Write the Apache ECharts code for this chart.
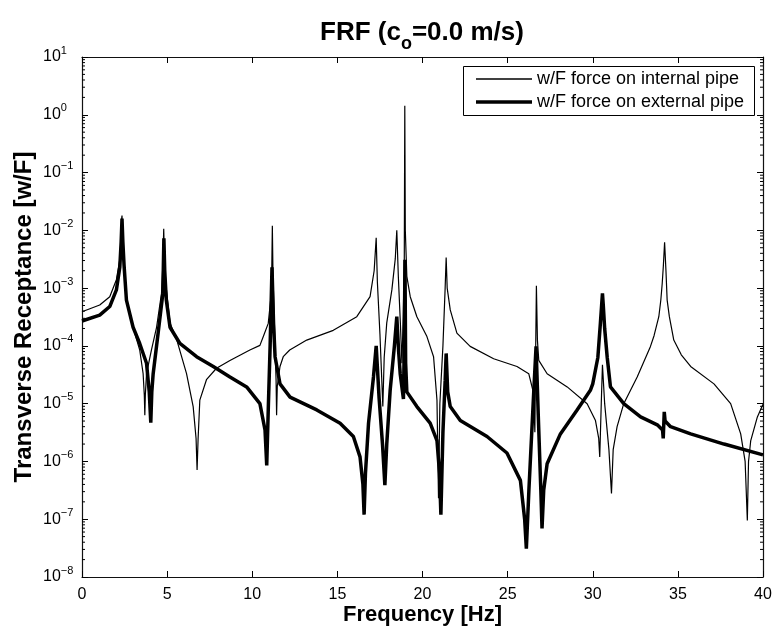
<!DOCTYPE html>
<html>
<head>
<meta charset="utf-8">
<script src="https://cdn.jsdelivr.net/npm/echarts@6/dist/echarts.min.js"></script>
<style>html,body{margin:0;padding:0;background:#fff}#c{width:773px;height:630px}</style>
</head>
<body>
<div id="c"></div>
<script>
// Frequencies (Hz) and receptance values
const freqInternal = [0,1.04,1.63,2.02,2.22,2.30,2.33,2.35,2.40,2.47,2.61,3.0,3.39,3.59,3.66,3.69,3.72,3.79,4.08,4.38,4.67,4.75,4.8,4.85,4.95,5.17,5.57,6.14,6.53,6.7,6.76,6.82,6.92,7.31,7.9,8.69,9.86,10.45,10.65,10.94,11.1,11.15,11.18,11.22,11.3,11.4,11.43,11.47,11.63,11.82,12.2,13.2,14.76,16.14,16.92,17.16,17.28,17.35,17.5,17.67,17.75,17.9,18.2,18.4,18.49,18.58,18.7,18.79,18.87,18.93,18.96,18.99,19.08,19.28,19.67,20.26,20.65,20.85,20.94,21.02,21.2,21.33,21.39,21.45,21.63,22.02,22.8,24.18,25.55,26.24,26.53,26.6,26.65,26.69,26.75,26.83,27.32,28.5,29.67,30.16,30.35,30.41,30.5,30.57,30.7,30.95,31.1,31.2,31.43,31.82,32.61,33.39,33.6,33.88,34.0,34.08,34.15,34.22,34.3,34.37,34.5,34.76,35.2,35.75,37.12,38.1,38.69,38.95,39.08,39.15,39.28,39.67,40];
const valInternal = [3.9e-4,5.1e-4,7.1e-4,1.4e-3,3.1e-3,7.9e-3,1.6e-2,1.8e-2,6.3e-3,2.5e-3,6.2e-4,2.1e-4,8.5e-5,3.3e-5,1.4e-5,6.3e-6,1.4e-5,3.3e-5,8.5e-5,2.1e-4,8.1e-4,2.5e-3,1.06e-2,2.5e-3,1.0e-3,2.5e-4,1.26e-4,3.3e-5,8.9e-6,2.5e-6,7.1e-7,2.5e-6,1.15e-5,2.6e-5,4.1e-5,5.6e-5,8.5e-5,1.02e-4,1.45e-4,2.45e-4,7.1e-4,2.5e-3,1.2e-2,1.6e-3,2.5e-4,2.5e-5,6.3e-6,2.0e-5,4.4e-5,6.5e-5,8.5e-5,1.26e-4,1.86e-4,3.2e-4,7.1e-4,2.0e-3,7.4e-3,1.26e-3,1.6e-4,8.9e-6,6.3e-5,2.5e-4,9.3e-4,3.2e-3,1.0e-2,1.6e-3,2.5e-4,5.0e-5,3.2e-4,3.2e-3,1.43,1.0e-2,1.6e-3,7.1e-4,3.2e-4,1.45e-4,6.5e-5,1.15e-5,2.3e-7,1.0e-5,1.0e-4,1.0e-3,3.4e-3,1.0e-3,4.2e-4,1.66e-4,9.8e-5,6.0e-5,4.4e-5,3.3e-5,1.5e-5,3.2e-6,1.0e-4,1.1e-3,1.26e-4,5.6e-5,3.3e-5,1.95e-5,1.0e-5,5.1e-6,2.5e-6,1.2e-6,1.0e-5,4.7e-5,1.0e-5,1.6e-6,2.8e-7,1.6e-6,4.0e-6,1.0e-5,2.9e-5,9.8e-5,1.5e-4,3.2e-4,6.3e-4,1.2e-3,2.5e-3,6.2e-3,2.0e-3,6.2e-4,3.2e-4,1.26e-4,7.0e-5,4.4e-5,2.2e-5,1.0e-5,3.0e-6,1.0e-6,9.5e-8,1.0e-6,2.3e-6,5.9e-6,9.8e-6];

const freqExternal = [0,1.04,1.63,2.02,2.22,2.30,2.35,2.40,2.47,2.61,3.0,3.39,3.79,3.95,4.04,4.1,4.18,4.47,4.75,4.78,4.81,4.86,4.95,5.17,5.75,6.73,7.71,8.69,9.67,10.45,10.75,10.85,10.95,11.05,11.16,11.25,11.34,11.63,12.22,13.79,15.16,15.94,16.33,16.5,16.57,16.65,16.83,17.12,17.28,17.45,17.65,17.79,17.9,18.1,18.35,18.49,18.6,18.69,18.88,18.93,18.97,19.01,19.08,19.67,20.45,20.85,21.0,21.08,21.2,21.33,21.39,21.48,21.63,22.22,23.79,24.96,25.75,26.0,26.1,26.25,26.5,26.67,26.8,26.95,27.02,27.12,27.32,28.1,29.08,29.86,30.0,30.3,30.45,30.52,30.57,30.62,30.7,30.85,31.04,31.82,32.81,33.79,34.1,34.14,34.2,34.25,34.57,35.75,37.71,40];
const valExternal = [2.7e-4,3.4e-4,4.8e-4,9.3e-4,2.3e-3,6.3e-3,1.6e-2,6.3e-3,2.5e-3,6.2e-4,2.1e-4,1.1e-4,5.0e-5,1.6e-5,4.7e-6,1.6e-5,3.3e-5,1.66e-4,8.1e-4,2.5e-3,7.3e-3,2.0e-3,6.3e-4,2.1e-4,1.1e-4,6.5e-5,4.4e-5,2.9e-5,1.95e-5,1.0e-5,3.5e-6,8.5e-7,1.0e-5,1.0e-4,2.3e-3,2.5e-4,6.5e-5,2.2e-5,1.3e-5,7.8e-6,4.6e-6,2.7e-6,1.2e-6,4.0e-7,1.2e-7,6.3e-7,4.6e-6,2.9e-5,1.0e-4,1.26e-5,2.0e-6,3.9e-7,2.0e-6,1.7e-5,1.0e-4,3.2e-4,7.9e-5,3.3e-5,1.2e-5,1.0e-4,3.1e-3,5.0e-5,1.6e-5,8.9e-6,4.6e-6,2.3e-6,6.3e-7,1.2e-7,3.2e-6,2.5e-5,7.4e-5,1.6e-5,8.9e-6,5.1e-6,2.7e-6,1.4e-6,4.7e-7,1.0e-7,3.1e-8,3.2e-7,1.0e-5,9.8e-5,6.3e-6,3.2e-7,6.9e-8,3.2e-7,9.1e-7,3.0e-6,7.8e-6,1.7e-5,2.2e-5,6.3e-5,2.5e-4,5.0e-4,8.1e-4,5.0e-4,2.0e-4,6.3e-5,1.95e-5,1.0e-5,5.9e-6,4.3e-6,3.5e-6,2.5e-6,7.2e-6,5.0e-6,4.0e-6,3.0e-6,2.0e-6,1.3e-6];

const seriesNames = ['w/F force on internal pipe', 'w/F force on external pipe'];
const xTicks = [0, 5, 10, 15, 20, 25, 30, 35, 40];
const yDecades = [-8, -7, -6, -5, -4, -3, -2, -1, 0, 1];

const minorTicks = [];
for (let d = -8; d < 1; d++) for (let k = 2; k <= 9; k++) minorTicks.push([0, k * Math.pow(10, d)]);

const FONT = "'Liberation Sans', Arial, Helvetica, sans-serif";
const chart = echarts.init(document.getElementById('c'), null, {renderer: 'canvas'});

function pairs(xs, ys) { return xs.map((x, i) => [x, ys[i]]); }

const legendText = {fontFamily: FONT, fontSize: 18, color: '#000'};
const AX = {color: '#111', width: 1.2};

const option = {
  animation: false,
  backgroundColor: '#fff',
  title: {
    text: '{a|FRF (c}{s|o}{a|=0.0 m/s)}',
    left: 417, textAlign: 'center', top: 8,
    textStyle: {
      rich: {
        a: {fontFamily: FONT, fontWeight: 'bold', fontSize: 26, color: '#000', lineHeight: 40},
        s: {fontFamily: FONT, fontWeight: 'bold', fontSize: 18, color: '#000', verticalAlign: 'bottom'}
      }
    }
  },
  graphic: [{
    type: 'rect', z: 3, silent: true,
    shape: {x: 463.5, y: 66.5, width: 291, height: 49},
    style: {fill: '#fff', stroke: '#000', lineWidth: 1}
  }],
  legend: [{
    data: [seriesNames[0]], icon: 'rect',
    left: 476, top: 70, padding: 0,
    itemWidth: 56, itemHeight: 1.3, itemGap: 0,
    textStyle: legendText
  }, {
    data: [seriesNames[1]], icon: 'rect',
    left: 476, top: 93, padding: 0,
    itemWidth: 56, itemHeight: 3.5, itemGap: 0,
    textStyle: legendText
  }],
  grid: {left: 82, right: 10, top: 57, bottom: 53, containLabel: false, outerBoundsMode: 'none'},
  xAxis: [{
    type: 'value', min: 0, max: 40, interval: 5,
    name: 'Frequency [Hz]', nameLocation: 'middle', nameGap: 27, nameMoveOverlap: false,
    nameTextStyle: {fontFamily: FONT, fontWeight: 'bold', fontSize: 22, color: '#000'},
    axisLine: {onZero: false, lineStyle: AX},
    axisTick: {inside: true, length: 6, lineStyle: {color: '#000'}},
    axisLabel: {fontFamily: FONT, fontSize: 16, color: '#000', margin: 10,
      formatter: v => xTicks.indexOf(v) >= 0 ? String(v) : ''},
    splitLine: {show: false}
  }, {
    type: 'value', min: 0, max: 40, interval: 5, position: 'top',
    axisLine: {onZero: false, lineStyle: AX},
    axisTick: {inside: true, length: 6, lineStyle: {color: '#000'}},
    axisLabel: {show: false}, splitLine: {show: false}
  }],
  yAxis: [{
    type: 'log', logBase: 10, min: 1e-8, max: 10, interval: 1,
    name: 'Transverse Receptance [w/F]', nameLocation: 'middle', nameGap: 46, nameMoveOverlap: false,
    nameTextStyle: {fontFamily: FONT, fontWeight: 'bold', fontSize: 24, color: '#000'},
    axisLine: {onZero: false, lineStyle: AX},
    axisTick: {inside: true, length: 6, lineStyle: {color: '#000'}},
    axisLabel: {
      align: 'left', margin: 39,
      formatter: v => {
        const e = Math.round(Math.log10(v));
        if (yDecades.indexOf(e) < 0) return '';
        return '{b|10}{s|' + (e < 0 ? '\u2212' + (-e) : String(e)) + '}';
      },
      rich: {
        b: {fontFamily: FONT, fontSize: 16, color: '#000', lineHeight: 24},
        s: {fontFamily: FONT, fontSize: 11, color: '#000', verticalAlign: 'top'}
      }
    },
    splitLine: {show: false}
  }, {
    type: 'log', logBase: 10, min: 1e-8, max: 10, interval: 1, position: 'right',
    axisLine: {onZero: false, lineStyle: AX},
    axisTick: {inside: true, length: 6, lineStyle: {color: '#000'}},
    axisLabel: {show: false}, splitLine: {show: false}
  }],
  series: [{
    name: seriesNames[0], type: 'line', xAxisIndex: 0, yAxisIndex: 0,
    data: pairs(freqInternal, valInternal),
    symbol: 'none', showSymbol: false, smooth: false,
    lineStyle: {color: '#000', width: 1.2}, itemStyle: {color: '#000'}
  }, {
    name: seriesNames[1], type: 'line', xAxisIndex: 0, yAxisIndex: 0,
    data: pairs(freqExternal, valExternal),
    symbol: 'none', showSymbol: false, smooth: false,
    lineStyle: {color: '#000', width: 3.5}, itemStyle: {color: '#000'}
  }, {
    type: 'custom', xAxisIndex: 0, yAxisIndex: 0, silent: true,
    data: minorTicks, encode: {x: 0, y: 1}, clip: false,
    renderItem: function (params, api) {
      const v = api.value(1);
      const pL = api.coord([0, v]);
      const pR = api.coord([40, v]);
      return {type: 'group', children: [
        {type: 'line', shape: {x1: pL[0], y1: pL[1], x2: pL[0] + 3, y2: pL[1]}, style: {stroke: '#000', lineWidth: 1}},
        {type: 'line', shape: {x1: pR[0] - 3, y1: pR[1], x2: pR[0], y2: pR[1]}, style: {stroke: '#000', lineWidth: 1}}
      ]};
    }
  }]
};
chart.setOption(option);
</script>
</body>
</html>
